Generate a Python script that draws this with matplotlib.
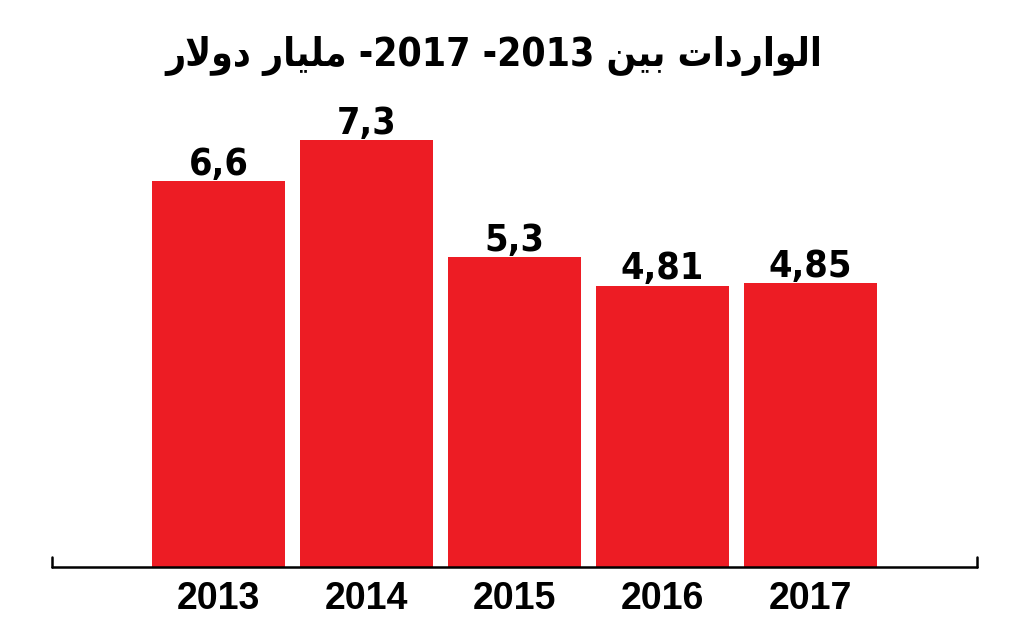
import matplotlib
matplotlib.use("Agg")
import matplotlib.pyplot as plt

# data
years = ["2013", "2014", "2015", "2016", "2017"]
imports_bn = [6.6, 7.3, 5.3, 4.81, 4.85]
value_labels = ["6,6", "7,3", "5,3", "4,81", "4,85"]

# title "الواردات بين 2013- 2017- مليار دولار" written in shaped glyphs, visual order
# (matplotlib does no arabic shaping / bidi on its own)
w_dollar = "\uFEAD\uFEFB\uFEED\uFEA9"
w_billion = "\uFEAD\uFE8E\uFEF4\uFEE0\uFEE3"
w_between = "\uFEE6\uFEF4\uFE91"
w_imports = "\uFE95\uFE8D\uFEA9\uFEAD\uFE8D\uFEEE\uFEDF\uFE8D"
title = f"{w_dollar} {w_billion} -2017 -2013 {w_between} {w_imports}"

RED = "#ED1C24"

fig = plt.figure(figsize=(10.24, 6.27), dpi=100)
ax = fig.add_axes([52 / 1024, 60 / 627, 925 / 1024, 468 / 627])

x = list(range(len(years)))
bars = ax.bar(x, imports_bn, width=0.9, color=RED, zorder=1)

for b, lab in zip(bars, value_labels):
    ax.annotate(lab, (b.get_x() + b.get_width() / 2, b.get_height()),
                xytext=(0, 4.5), textcoords="offset points",
                ha="center", va="baseline", fontsize=27,
                fontweight="bold", fontstretch="condensed",
                family="DejaVu Sans", color="black")

ax.set_xlim(-1.125, 5.125)
ax.set_ylim(0, 8)

ax.spines["top"].set_visible(False)
for s in ["left", "right", "bottom"]:
    ax.spines[s].set_linewidth(1.8)
    ax.spines[s].set_capstyle("round")
for s in ["left", "right"]:
    ax.spines[s].set_bounds(0, 0.17)

ax.set_yticks([])
ax.set_xticks(x)
ax.set_xticklabels(years, fontsize=27, fontweight="bold",
                   family="Liberation Sans")
ax.tick_params(axis="x", length=0, pad=10)

fig.text(494 / 1024, 1 - 56 / 627, title, ha="center", va="center",
         fontsize=28, fontweight="bold", fontstretch="condensed",
         family="DejaVu Sans")

fig.savefig("out.png", dpi=100, facecolor="white")
